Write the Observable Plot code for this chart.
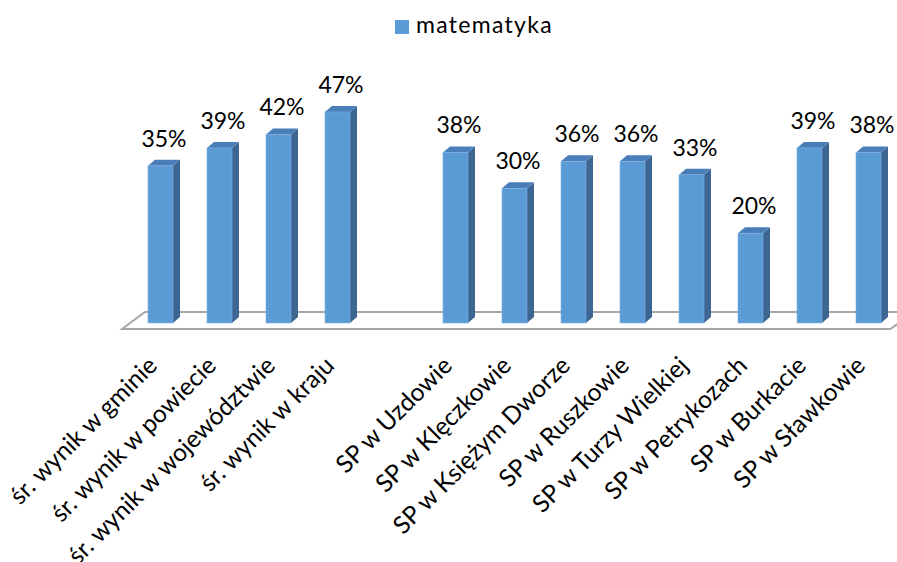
<!DOCTYPE html>
<html>
<head>
<meta charset="utf-8">
<script src="https://cdn.jsdelivr.net/npm/d3@7"></script>
<script src="https://cdn.jsdelivr.net/npm/@observablehq/plot@0.6"></script>
<style>
  html, body { margin: 0; padding: 0; background: #ffffff; }
  #wrap { width: 897px; height: 562px; position: relative; overflow: hidden; font-family: Lato, "Open Sans", sans-serif; }
  #legend { position: relative; height: 50px; }
  #legend .sw { position: absolute; left: 395px; top: 20px; width: 14px; height: 14px; background: #5B9BD5; }
  #legend .lb { position: absolute; left: 416px; top: 10px; font-size: 23px; line-height: 28px; color: #000; letter-spacing: 1.3px; }
  svg { display: block; }
</style>
</head>
<body>
<div id="wrap">
  <div id="legend"><div class="sw"></div><div class="lb"></div></div>
  <div id="chart"></div>
</div>
<script>
// ---- data ----
const seriesName = "matematyka";
const groupA = ["śr. wynik w gminie", "śr. wynik w powiecie", "śr. wynik w województwie", "śr. wynik w kraju"];
const groupB = ["SP w Uzdowie", "SP w Klęczkowie", "SP w Księżym Dworze", "SP w Ruszkowie", "SP w Turzy Wielkiej", "SP w Petrykozach", "SP w Burkacie", "SP w Sławkowie"];
const valuesA = [35, 39, 42, 47];
const valuesB = [38, 30, 36, 36, 33, 20, 39, 38];

// ---- build table ----
const GAP = "\u200b"; // empty slot between the two groups
const domain = [...groupA, GAP, ...groupB];
const rows = [
  ...groupA.map((name, i) => ({name, value: valuesA[i]})),
  ...groupB.map((name, i) => ({name, value: valuesB[i]}))
];

const FRONT = "#5B9BD5", SIDE = "#3D6792", TOP = "#4A7EB9";
const DX = 7, DY = 6;

document.querySelector("#legend .lb").textContent = seriesName;

function bw(x) { return typeof x.bandwidth === "function" ? x.bandwidth() : x.bandwidth; }

const floor = Plot.ruleY([0], {
  render(index, scales) {
    const {x, y} = scales;
    const r = x.range ? x.range() : [147, 881.5];
    const y0 = y(0);
    const g = d3.create("svg:g");
    const yf = y0 + 6, yb = y0 - 11;
    g.append("polygon")
      .attr("points", [[r[0] - 25, yf], [r[0] - 2, yb], [r[1] + 32, yb], [r[1] + 9, yf]].join(" "))
      .attr("fill", "#ffffff").attr("stroke", "#A6A6A6").attr("stroke-width", 2);
    return g.node();
  }
});

const bars = Plot.barY(rows, {
  x: "name", y: "value",
  render(index, scales) {
    const {x, y} = scales;
    const w = bw(x);
    const y0 = y(0);
    const g = d3.create("svg:g");
    for (const i of index) {
      const d = rows[i];
      const x0 = x(d.name), x1 = x0 + w, yt = y(d.value);
      g.append("polygon").attr("points", [[x1, yt], [x1 + DX, yt - DY], [x1 + DX, y0 - DY], [x1, y0]].join(" ")).attr("fill", SIDE);
      g.append("polygon").attr("points", [[x0, yt], [x0 + DX, yt - DY], [x1 + DX, yt - DY], [x1, yt]].join(" ")).attr("fill", TOP);
      g.append("rect").attr("x", x0).attr("y", yt).attr("width", w).attr("height", y0 - yt)
        .attr("fill", FRONT).attr("stroke", "#7FAEE0").attr("stroke-width", 0.6);
    }
    return g.node();
  }
});

const chart = Plot.plot({
  width: 897,
  height: 512,
  margin: 0,
  style: {fontFamily: "Lato, 'Open Sans', sans-serif", background: "#ffffff", overflow: "visible"},
  x: {type: "band", domain, range: [147, 881.5], paddingInner: 0.577, paddingOuter: 0, axis: null},
  y: {domain: [0, 60], range: [273, 3.6], axis: null},
  marks: [
    floor,
    bars,
    Plot.text(rows, {x: "name", y: "value", text: d => `${d.value}%`, dx: 3, dy: -27, fontSize: 23, fill: "#000"}),
    Plot.text(rows, {x: "name", y: () => 0, text: "name", rotate: -45, textAnchor: "end", dx: -8, dy: 38, fontSize: 24.5, fill: "#000"})
  ]
});
document.getElementById("chart").appendChild(chart);
</script>
</body>
</html>
